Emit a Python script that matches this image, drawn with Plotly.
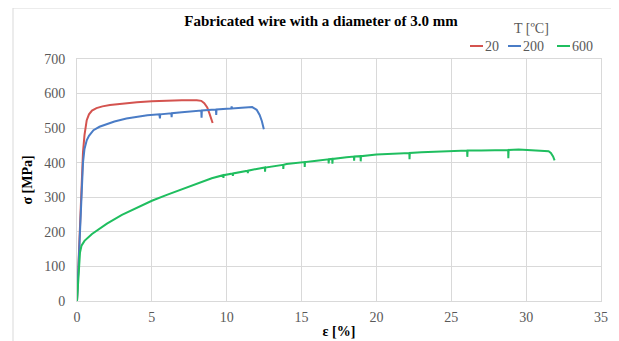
import plotly.graph_objects as go

# ---- data ----
temps = ["20", "200", "600"]

eps_20 = [0, 0.1, 0.2, 0.3, 0.4, 0.5, 0.65, 0.8, 1.0, 1.3, 1.7, 2.2, 3, 4, 5, 6, 7, 8,
          8.3, 8.5, 8.7, 8.85, 9.0, 9.06]
sig_20 = [0, 100, 200, 340, 430, 480, 523, 540, 551, 558, 563, 567, 571, 575, 578, 580, 581, 581,
          579, 572, 560, 542, 523, 515]

eps_200 = [0, 0.1, 0.2, 0.3, 0.4, 0.5, 0.65, 0.8, 1.1, 1.5, 2, 2.5, 3.3, 4, 4.7,
           5.5, 5.54, 5.56, 6.3, 6.32, 6.34, 7, 7.7, 8.3, 8.32, 8.34, 9, 9.28, 9.3, 9.32,
           10, 10.3, 10.33, 10.36, 11, 11.7, 12.0, 12.2, 12.35, 12.48]
sig_200 = [0, 100, 200, 320, 400, 440, 465, 478, 494, 504, 512, 519, 528, 533, 537,
           540, 528, 540, 543, 532, 543, 546, 549, 551, 530, 551, 553, 554, 538, 554,
           556, 557, 563, 557, 559, 561, 553, 538, 520, 497]

eps_600 = [0, 0.1, 0.2, 0.3, 0.5, 1, 1.5, 2, 3, 4, 5, 6, 7, 8, 9,
           9.77, 9.78, 9.8, 10.4, 10.41, 10.43, 11.4, 11.41, 11.43, 12, 12.55, 12.56, 12.58,
           13.77, 13.78, 13.8, 14, 15.2, 15.21, 15.23, 16, 16.8, 16.81, 16.83, 17.05, 17.06, 17.08,
           18, 18.5, 18.51, 18.53, 18.94, 18.95, 18.97, 20, 21, 22.2, 22.21, 22.23, 23, 24, 25,
           26.06, 26.07, 26.09, 27, 28, 28.8, 28.81, 28.83, 29.5, 30.5, 31.2, 31.5, 31.65, 31.8, 31.9]
sig_600 = [0, 90, 140, 160, 174, 194, 210, 224, 249, 270, 290, 307, 323, 340, 355,
           364, 356, 364, 369, 362, 369, 377, 370, 377, 382, 386, 374, 386,
           394, 382, 394, 396, 402, 388, 402, 406, 410, 398, 410, 411, 397, 411,
           416, 418, 406, 418, 419, 404, 419, 424, 426, 428, 410, 428, 430, 432, 434,
           435, 417, 435, 435, 436, 437, 413, 437, 438, 436, 435, 433, 428, 418, 407]

colors = ["#d4534f", "#4a7cc6", "#1fbe5f"]

x_ticks = [0, 5, 10, 15, 20, 25, 30, 35]
y_ticks = [0, 100, 200, 300, 400, 500, 600, 700]

FONT = "Liberation Serif, Times New Roman, serif"
GRID = "#d9d9d9"
TXT = "#595959"

# the page body adds an 8 px offset, so the figure is 8 px smaller than the window
OFF = 8
W, H = 619 - OFF, 341 - OFF
# plot area in reference-window pixels: x 77..601, y 59..301
ml, mt = 77 - OFF, 59 - OFF
mr, mb = W - (601 - OFF), H - (301 - OFF)
pw, ph = W - ml - mr, H - mt - mb


def px_x(p):
    return (p - OFF - ml) / pw


def px_y(p):
    return (H - mb - (p - OFF)) / ph


fig = go.Figure()
for name, xs, ys, c in zip(temps, [eps_20, eps_200, eps_600], [sig_20, sig_200, sig_600], colors):
    fig.add_trace(go.Scatter(x=xs, y=ys, mode="lines", name=name, showlegend=False,
                             line=dict(color=c, width=2)))

# legend drawn by hand (short Excel-style line samples)
legend_line_x = [470, 508, 557]
legend_y = 46
shapes = [dict(type="rect", xref="paper", yref="paper",
               x0=px_x(13), x1=px_x(617), y0=px_y(345), y1=px_y(8),
               line=dict(color="#d9d9d9", width=1), fillcolor="rgba(0,0,0,0)", layer="below")]
annotations = [dict(text="T [ºC]", xref="paper", yref="paper", x=px_x(531), y=px_y(29),
                    xanchor="center", yanchor="middle", showarrow=False,
                    font=dict(family=FONT, size=14, color=TXT))]
for name, c, lx in zip(temps, colors, legend_line_x):
    shapes.append(dict(type="line", xref="paper", yref="paper",
                       x0=px_x(lx), x1=px_x(lx + 13), y0=px_y(legend_y), y1=px_y(legend_y),
                       line=dict(color=c, width=2)))
    annotations.append(dict(text=name, xref="paper", yref="paper", x=px_x(lx + 13), y=px_y(legend_y),
                            xanchor="left", yanchor="middle", showarrow=False,
                            font=dict(family=FONT, size=14, color=TXT)))

fig.update_layout(
    width=W, height=H,
    margin=dict(l=ml, r=mr, t=mt, b=mb, autoexpand=False),
    paper_bgcolor="white", plot_bgcolor="white",
    font=dict(family=FONT, size=14, color=TXT),
    title=dict(text="<b>Fabricated wire with a diameter of 3.0 mm</b>",
               font=dict(family=FONT, size=15, color="#000000"),
               x=px_x(321), xanchor="center", xref="paper",
               y=1 - (21 - OFF) / H, yanchor="middle"),
    xaxis=dict(range=[0, 35], tickvals=x_ticks, showgrid=True, gridcolor=GRID, gridwidth=1,
               zeroline=False, showline=True, linecolor=GRID, mirror=True, ticks="",
               automargin=False, ticklabelstandoff=3,
               title=dict(text="<b>ε [%]</b>", font=dict(family=FONT, size=14, color="#000000"),
                          standoff=2),
               tickfont=dict(family=FONT, size=14, color=TXT)),
    yaxis=dict(range=[0, 700], tickvals=y_ticks, showgrid=True, gridcolor=GRID, gridwidth=1,
               zeroline=False, showline=True, linecolor=GRID, mirror=True, ticks="",
               automargin=False, ticklabelstandoff=8,
               title=dict(text="<b>σ [MPa]</b>", font=dict(family=FONT, size=14, color="#000000"),
                          standoff=8),
               tickfont=dict(family=FONT, size=14, color=TXT)),
    showlegend=False,
    shapes=shapes,
    annotations=annotations,
)

fig.write_html("out.html")
